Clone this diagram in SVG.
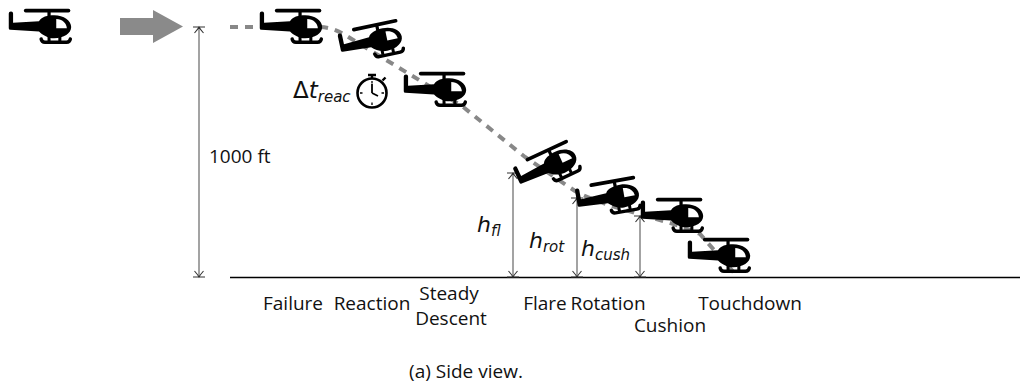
<svg xmlns="http://www.w3.org/2000/svg" width="1035" height="392" viewBox="0 0 1035 392">
  <style>
    .lbl { font-family: "Open Sans", "Noto Sans", sans-serif; font-size: 19px; fill: #111; }
    .math { font-family: "DejaVu Sans", sans-serif; font-style: oblique; fill: #111; }
    .up { font-style: normal; }
    .dim { fill: none; stroke: #666; stroke-width: 1.2; marker-start: url(#dimTip); marker-end: url(#dimTip); }
    .traj { fill: none; stroke: #888; stroke-width: 4; stroke-dasharray: 8 7; }
  </style>
  <defs>
    <!-- dimension end: stop bar plus open arrowhead -->
    <marker id="dimTip" viewBox="-8 -8 16 16" markerWidth="16" markerHeight="16" refX="0" refY="0" orient="auto-start-reverse" markerUnits="userSpaceOnUse">
      <path d="M0,-6 V6 M-6,-4.5 Q-2,-1 0,0 Q-2,1 -6,4.5" fill="none" stroke="#333" stroke-width="1.1"/>
    </marker>
    <!-- helicopter silhouette, centred on its bounding box -->
    <g id="heli-shape" transform="scale(1.08)">
      <rect x="-14" y="-16" width="43" height="3.4" rx="1.7" fill="#000"/>
      <rect x="7.8" y="-13.5" width="3" height="6" fill="#000"/>
      <path d="M-28,-11.5 Q-28,-13.5 -26,-13.5 L-25.8,-13.5 Q-24,-13.5 -24,-11.5 L-24,-3 L0,-4.5 C2,-8.5 8,-10 14,-10 C23,-10 29.8,-5 29.8,1 C29.8,7 23,11.3 14,11.3 C8,11.3 3,8 0,5 L-26.5,3.5 Q-28,3.5 -28,2 Z" fill="#000"/>
      <path d="M16,-6.5 L16,2 L25.8,2 C25.3,-3 21.5,-6.2 16,-6.5 Z" fill="#fff"/>
      <path d="M9.3,10 V14 M19.3,10 V14" stroke="#000" stroke-width="2.8"/>
      <path d="M2,12 Q2.5,15 5.5,15 L25.5,15 Q28.5,15 29,12" fill="none" stroke="#000" stroke-width="3.2" stroke-linecap="round"/>
    </g>
  </defs>

  <!-- ground -->
  <line x1="230" y1="277.5" x2="1020" y2="277.5" stroke="#000" stroke-width="1.3"/>

  <g id="connectors">
    <!-- flight path -->
    <path class="traj" d="M230,27 H318 C330,27 338,31 345,35 L462,106 L525,157 L575,191 C610,210 665,218 700,234 L737,276"/>
    <!-- transition arrow -->
    <polygon points="120,18 153,18 153,10 183,26.5 153,43 153,35 120,35" fill="#8a8a8a"/>
    <!-- height dimensions -->
    <path class="dim" d="M199,277 V27"/>
    <path class="dim" d="M513,277 V173"/>
    <path class="dim" d="M577,277 V198"/>
    <path class="dim" d="M640,277 V216"/>
  </g>

  <g id="heli-cruise"><use href="#heli-shape" transform="translate(39,26)"/></g>
  <g id="heli-failure"><use href="#heli-shape" transform="translate(290,26)"/></g>
  <g id="heli-reaction"><use href="#heli-shape" transform="translate(370,42) rotate(-12)"/></g>
  <g id="heli-descent"><use href="#heli-shape" transform="translate(434,89)"/></g>
  <g id="heli-flare"><use href="#heli-shape" transform="translate(546,168) rotate(-25)"/></g>
  <g id="heli-rotation"><use href="#heli-shape" transform="translate(607,198) rotate(-10)"/></g>
  <g id="heli-cushion"><use href="#heli-shape" transform="translate(671,215)"/></g>
  <g id="heli-touchdown"><use href="#heli-shape" transform="translate(718,255)"/></g>

  <!-- reaction time stopwatch -->
  <g id="stopwatch" fill="none" stroke="#000">
    <circle cx="372" cy="93" r="14.5" stroke-width="2.6"/>
    <path d="M372,78.5 V75 M368,75 H376" stroke-width="2.4"/>
    <path d="M382.5,80.5 L385.5,77.5" stroke-width="2.4"/>
    <path d="M372,93 V84 M372,93 L378,96" stroke-width="1.8"/>
    <path d="M372,81 V83.5 M372,102.5 V105 M360,93 H362.5 M381.5,93 H384" stroke-width="1.3"/>
  </g>

  <g id="labels">
    <text class="lbl" x="209" y="163">1000 ft</text>
    <text class="math" x="293" y="98" font-size="23"><tspan class="up">Δ</tspan>t<tspan font-size="15" dy="4">reac</tspan></text>
    <text class="math" x="477" y="232" font-size="22">h<tspan font-size="15" dy="4">fl</tspan></text>
    <text class="math" x="529" y="248" font-size="22">h<tspan font-size="15" dy="4">rot</tspan></text>
    <text class="math" x="581" y="256" font-size="22">h<tspan font-size="15" dy="4">cush</tspan></text>

    <text class="lbl" x="293" y="310" text-anchor="middle">Failure</text>
    <text class="lbl" x="372" y="310" text-anchor="middle">Reaction</text>
    <text class="lbl" x="449" y="300" text-anchor="middle">Steady</text>
    <text class="lbl" x="451" y="325" text-anchor="middle">Descent</text>
    <text class="lbl" x="545" y="310" text-anchor="middle">Flare</text>
    <text class="lbl" x="608" y="310" text-anchor="middle">Rotation</text>
    <text class="lbl" x="670" y="332" text-anchor="middle">Cushion</text>
    <text class="lbl" x="750" y="310" text-anchor="middle">Touchdown</text>
    <text class="lbl" x="466" y="378" text-anchor="middle">(a) Side view.</text>
  </g>
</svg>
